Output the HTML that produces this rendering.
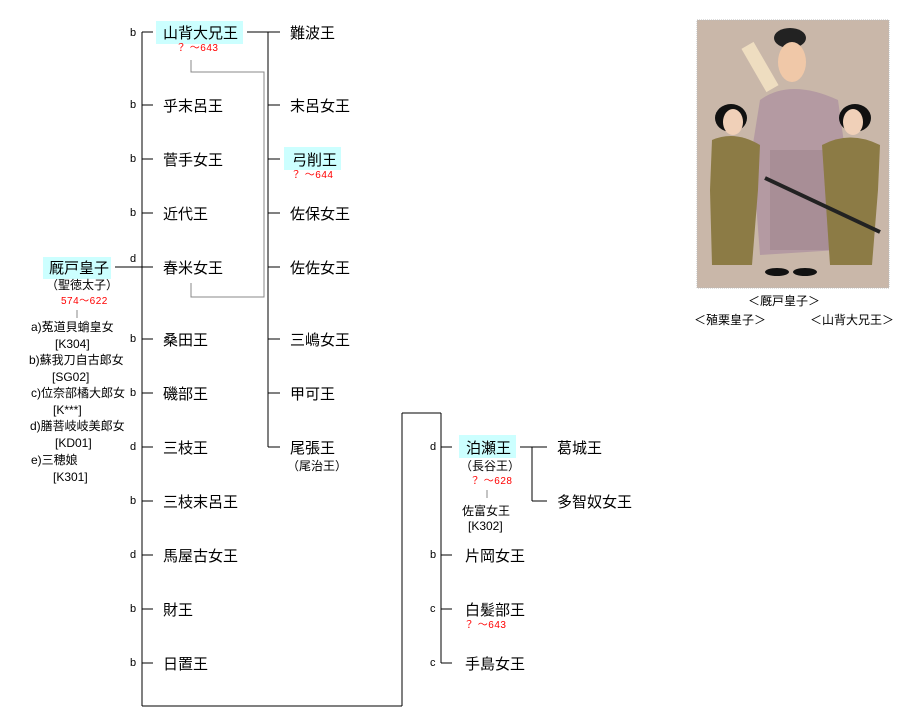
<!DOCTYPE html>
<html><head><meta charset="utf-8"><style>
html,body{margin:0;padding:0;background:#fff;}
svg{display:block;}
text{font-family:"Liberation Sans","Noto Sans CJK JP",sans-serif;fill:#000;}
.n text{font-size:15px;}
.s text{font-size:12px;}
.r text{font-size:10px;fill:#f00;letter-spacing:0.5px;}
.l text{font-size:11px;}
</style></head><body>
<svg width="898" height="718" viewBox="0 0 898 718" xmlns="http://www.w3.org/2000/svg">
<rect x="156" y="21" width="87" height="23" fill="#ccffff"/>
<rect x="284" y="147" width="57" height="23" fill="#ccffff"/>
<rect x="43" y="257" width="68" height="22" fill="#ccffff"/>
<rect x="459" y="435" width="57" height="23" fill="#ccffff"/>
<g stroke="#000" stroke-width="1" fill="none" shape-rendering="crispEdges">
<line x1="142" y1="32" x2="142" y2="706"/>
<line x1="142" y1="706" x2="402" y2="706"/>
<line x1="402" y1="706" x2="402" y2="413"/>
<line x1="402" y1="413" x2="441" y2="413"/>
<line x1="441" y1="413" x2="441" y2="663"/>
<path d="M142 32H153M142 105H153M142 159H153M142 213H153M142 267H153M142 339H153M142 393H153M142 447H153M142 501H153M142 555H153M142 609H153M142 663H153"/>
<line x1="115" y1="267" x2="142" y2="267"/>
<line x1="247" y1="32" x2="280" y2="32"/>
<line x1="268" y1="32" x2="268" y2="447"/>
<path d="M268 105H280M268 159H280M268 213H280M268 267H280M268 339H280M268 393H280M268 447H280"/>
<path d="M441 447H452M441 555H452M441 609H452M441 663H452"/>
<line x1="520" y1="447" x2="547" y2="447"/>
<line x1="532" y1="447" x2="532" y2="501"/>
<line x1="532" y1="501" x2="547" y2="501"/>
</g>
<g stroke="#888" stroke-width="1" fill="none" shape-rendering="crispEdges">
<path d="M191 60V72H264V297H191V283"/>
<line x1="77" y1="310" x2="77" y2="318"/>
<line x1="487" y1="490" x2="487" y2="498"/>
</g>
<g class="l">
<text x="130" y="36">b</text><text x="130" y="108">b</text><text x="130" y="162">b</text><text x="130" y="216">b</text>
<text x="130" y="262">d</text><text x="130" y="342">b</text><text x="130" y="396">b</text><text x="130" y="450">d</text>
<text x="130" y="504">b</text><text x="130" y="558">d</text><text x="130" y="612">b</text><text x="130" y="666">b</text>
<text x="430" y="450">d</text><text x="430" y="558">b</text><text x="430" y="612">c</text><text x="430" y="666">c</text>
</g>
<g class="n">
<text x="163" y="38">山背大兄王</text>
<text x="163" y="111">乎末呂王</text>
<text x="163" y="165">菅手女王</text>
<text x="163" y="219">近代王</text>
<text x="163" y="273">春米女王</text>
<text x="163" y="345">桑田王</text>
<text x="163" y="399">磯部王</text>
<text x="163" y="453">三枝王</text>
<text x="163" y="507">三枝末呂王</text>
<text x="163" y="561">馬屋古女王</text>
<text x="163" y="615">財王</text>
<text x="163" y="669">日置王</text>
<text x="290" y="38">難波王</text>
<text x="290" y="111">末呂女王</text>
<text x="292" y="165">弓削王</text>
<text x="290" y="219">佐保女王</text>
<text x="290" y="273">佐佐女王</text>
<text x="290" y="345">三嶋女王</text>
<text x="290" y="399">甲可王</text>
<text x="290" y="453">尾張王</text>
<text x="49" y="273">厩戸皇子</text>
<text x="466" y="453">泊瀬王</text>
<text x="557" y="453">葛城王</text>
<text x="557" y="507">多智奴女王</text>
<text x="465" y="561">片岡女王</text>
<text x="465" y="615">白髪部王</text>
<text x="465" y="669">手島女王</text>
</g>
<g class="s">
<text x="287" y="470">（尾治王）</text>
<text x="46" y="289">（聖徳太子）</text>
<text x="460" y="470">（長谷王）</text>
<text x="462" y="515">佐富女王</text>
<text x="468" y="530">[K302]</text>
<text x="31" y="331">a)菟道貝蛸皇女</text>
<text x="55" y="348">[K304]</text>
<text x="29" y="364">b)蘇我刀自古郎女</text>
<text x="52" y="381">[SG02]</text>
<text x="31" y="397">c)位奈部橘大郎女</text>
<text x="53" y="414">[K***]</text>
<text x="30" y="430">d)膳菩岐岐美郎女</text>
<text x="55" y="447">[KD01]</text>
<text x="31" y="464">e)三穂娘</text>
<text x="53" y="481">[K301]</text>
<text x="748" y="305">＜厩戸皇子＞</text>
<text x="694" y="324">＜殖栗皇子＞</text>
<text x="810" y="324">＜山背大兄王＞</text>
</g>
<g class="r">
<text x="176" y="51">？ ～643</text>
<text x="291" y="178">？ ～644</text>
<text x="61" y="304">574～622</text>
<text x="470" y="484">？ ～628</text>
<text x="464" y="628">？ ～643</text>
</g>
<rect x="697" y="20" width="192" height="268" fill="#c9b7a9" stroke="#bbb" stroke-dasharray="1,1"/>
<ellipse cx="790" cy="38" rx="16" ry="10" fill="#222"/>
<ellipse cx="792" cy="62" rx="14" ry="20" fill="#f0c8a8"/>
<rect x="753" y="42" width="14" height="50" fill="#eeddc0" transform="rotate(-30 760 67)"/>
<path d="M760 100 Q790 78 838 100 L845 150 L838 250 L760 255 L752 150 Z" fill="#b49aa2"/>
<rect x="770" y="150" width="60" height="100" fill="#a88e96"/>
<ellipse cx="777" cy="272" rx="12" ry="4" fill="#111"/><ellipse cx="805" cy="272" rx="12" ry="4" fill="#111"/>
<ellipse cx="731" cy="118" rx="16" ry="14" fill="#111"/>
<ellipse cx="733" cy="122" rx="10" ry="13" fill="#f0d0b8"/>
<path d="M712 140 Q735 130 760 145 L758 190 L752 265 L712 265 L710 190 Z" fill="#8c7b45"/>
<ellipse cx="855" cy="118" rx="16" ry="14" fill="#111"/>
<ellipse cx="853" cy="122" rx="10" ry="13" fill="#f0d0b8"/>
<path d="M822 145 Q850 130 880 145 L878 190 L872 265 L830 265 L825 190 Z" fill="#8c7b45"/>
<line x1="765" y1="178" x2="880" y2="232" stroke="#222" stroke-width="4"/>
</svg>
</body></html>
